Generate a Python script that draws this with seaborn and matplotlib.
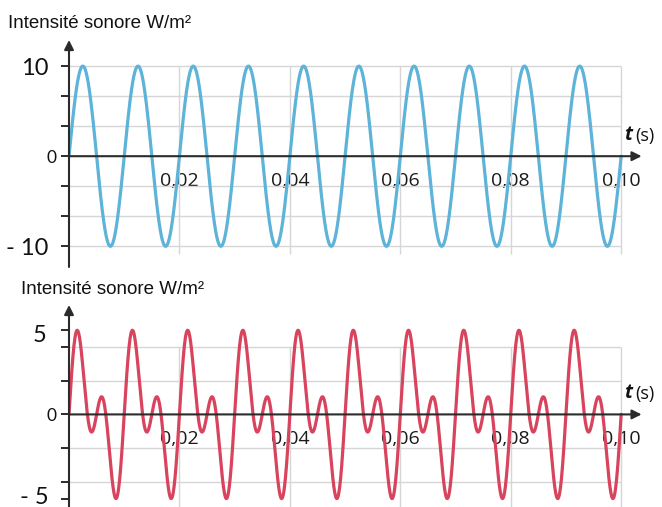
import numpy as np
import pandas as pd
import matplotlib
matplotlib.use("Agg")
import matplotlib.pyplot as plt
import matplotlib.transforms as mtransforms
import seaborn as sns

# ---------------- data ----------------
# signal components: frequency (Hz) and amplitude (W/m²)
top_freqs = [100]
top_amps = [10.0]
bottom_freqs = [100, 200]
bottom_amps = [2.84, 2.84]

t_end = 0.10
x_ticks = [0.02, 0.04, 0.06, 0.08, 0.10]
x_tick_labels = ["0,02", "0,04", "0,06", "0,08", "0,10"]

top_major = [-10, 0, 10]
top_major_labels = ["- 10", "0", "10"]
top_minor = [-20 / 3, -10 / 3, 10 / 3, 20 / 3]
top_grid_y = [-10, -20 / 3, -10 / 3, 10 / 3, 20 / 3, 10]

bottom_major = [-5, 0, 5]
bottom_major_labels = ["- 5", "0", "5"]
bottom_minor = [-4, -2, 2, 4]
bottom_grid_y = [-4, -2, 2, 4]

y_title = "Intensité sonore W/m²"

# ---------------- build series ----------------
t = np.linspace(0, t_end, 3001)


def signal(freqs, amps):
    y = np.zeros_like(t)
    for f, a in zip(freqs, amps):
        y += a * np.sin(2 * np.pi * f * t)
    return y


df_top = pd.DataFrame({"t": t, "I": signal(top_freqs, top_amps)})
df_bot = pd.DataFrame({"t": t, "I": signal(bottom_freqs, bottom_amps)})

# ---------------- style ----------------
sns.set_theme(style="white")
plt.rcParams["font.family"] = ["Liberation Sans", "DejaVu Sans"]

W, H = 662, 507
fig = plt.figure(figsize=(W / 100, H / 100), dpi=100)

axis_col = "#2b2b2b"
grid_col = "#d6d6d6"
blue = "#5db3d8"
red = "#d8435d"

xmax = 0.1045


def setup(ax, df, color, ylim, grid_y, grid_bottom, grid_top, major, major_labels, minor,
          label_sizes, label_pads, label_dy):
    ax.set_xlim(0, xmax)
    ax.set_ylim(*ylim)
    for s in ax.spines.values():
        s.set_visible(False)
    ax.spines["bottom"].set_position(("data", 0))
    ax.patch.set_alpha(0)
    # grid
    ax.hlines(grid_y, 0, t_end, color=grid_col, lw=1.0, zorder=1)
    ax.vlines(x_ticks, grid_bottom, grid_top, color=grid_col, lw=1.0, zorder=1)
    # curve
    sns.lineplot(data=df, x="t", y="I", ax=ax, color=color, lw=2.3, zorder=3,
                 estimator=None, sort=False)
    ax.set_xlabel("")
    ax.set_ylabel("")
    # axes with arrows
    ax.annotate("", xy=(xmax - 0.0008, 0), xytext=(0, 0),
                arrowprops=dict(arrowstyle="-|>", color=axis_col, lw=1.5,
                                shrinkA=0, shrinkB=0, mutation_scale=14),
                annotation_clip=False, zorder=4)
    ax.annotate("", xy=(0, ylim[1]), xytext=(0, ylim[0]),
                arrowprops=dict(arrowstyle="-|>", color=axis_col, lw=1.5,
                                shrinkA=0, shrinkB=0, mutation_scale=14),
                annotation_clip=False, zorder=4)
    # x ticks
    ax.set_xticks(x_ticks)
    ax.set_xticklabels(x_tick_labels, fontfamily="Open Sans", fontsize=14, color="#1a1a1a")
    ax.tick_params(axis="x", direction="out", length=7, width=1.4, color=axis_col,
                   pad=4.5, bottom=True)
    # y ticks
    ax.set_yticks(major)
    ax.set_yticklabels(major_labels, fontfamily="Lato", color="#111111")
    ax.set_yticks(minor, minor=True)
    ax.tick_params(axis="y", which="both", direction="out", length=6, width=1.4,
                   color=axis_col, left=True)
    for lab, fs in zip(ax.get_yticklabels(), label_sizes):
        lab.set_fontsize(fs)
    for tk, p, dy in zip(ax.yaxis.get_major_ticks(), label_pads, label_dy):
        tk.set_pad(p)
        if dy:
            lab = tk.label1
            lab.set_transform(lab.get_transform() +
                              mtransforms.ScaledTranslation(0, dy / 100, fig.dpi_scale_trans))


ax1 = fig.add_axes([69 / W, (H - 267) / H, (646 - 69) / W, 227 / H])
setup(ax1, df_top, blue, (-12.3, 12.9), top_grid_y, -10.9, 10, top_major,
      top_major_labels, top_minor, [17, 12.5, 17], [9, 3, 9], [0, 0, 0])

ax2 = fig.add_axes([69 / W, 0, (646 - 69) / W, 202 / H])
setup(ax2, df_bot, red, (-5.5, 6.5), bottom_grid_y, -5.5, 4, bottom_major,
      bottom_major_labels, bottom_minor, [17, 12.5, 17], [9, 3, 10], [3, 0, -3])

# titles
fig.text(8 / W, 1 - 23 / H, y_title, fontsize=13.5, fontfamily="Liberation Sans",
         va="center", ha="left", color="#111111")
fig.text(21 / W, 1 - 289 / H, y_title, fontsize=13.5, fontfamily="Liberation Sans",
         va="center", ha="left", color="#111111")

# t (s) labels
for ax, dy in ((ax1, 8), (ax2, 8)):
    ax.annotate("t", xy=(t_end, 0), xytext=(2, dy), textcoords="offset points",
                fontsize=14, fontweight="bold", fontstyle="italic",
                fontfamily="Open Sans", ha="left", va="bottom", color="#111111",
                annotation_clip=False)
    ax.annotate("(s)", xy=(t_end, 0), xytext=(10.5, dy), textcoords="offset points",
                fontsize=13, fontfamily="Open Sans", ha="left", va="bottom",
                color="#111111", annotation_clip=False)

fig.savefig("out.png", dpi=100)
